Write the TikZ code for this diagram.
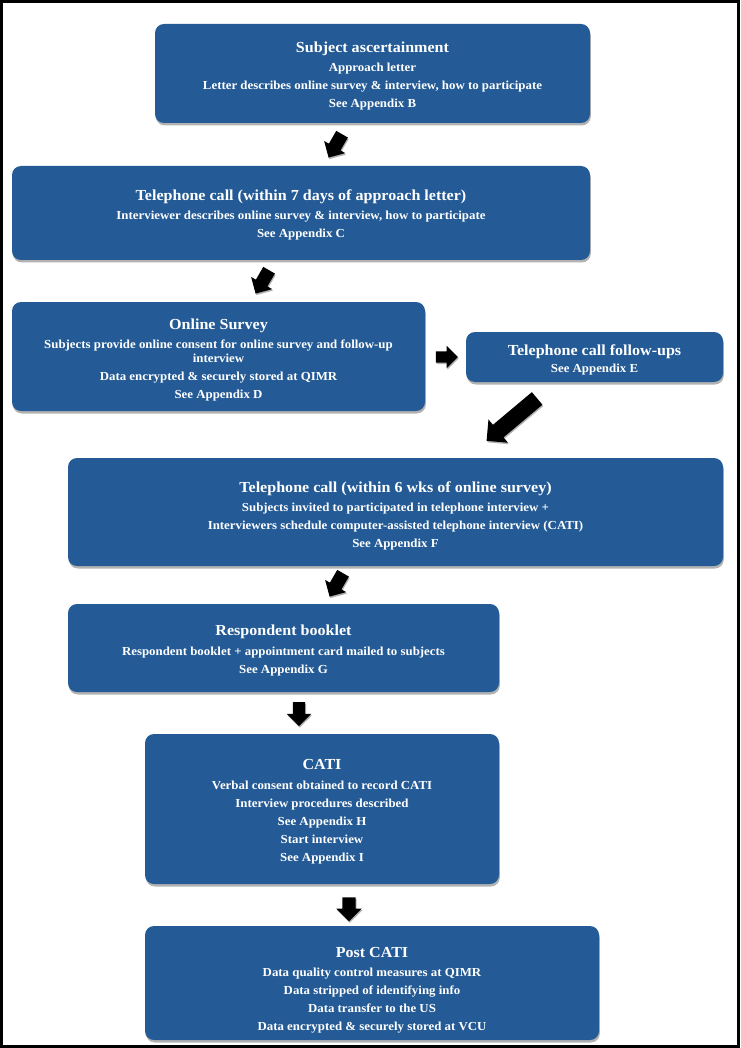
\documentclass[tikz,border=0pt]{standalone}
\usepackage{fontspec}
\setmainfont{Liberation Serif}[FakeStretch=1.05]
\usetikzlibrary{shapes.arrows,shadows}
\definecolor{boxblue}{RGB}{36,91,150}
\newcommand\boxtitle[1]{{\fontsize{15.3}{17}\selectfont #1}}
\begin{document}
\begin{tikzpicture}[x=1pt,y=-1pt,
  flowbox/.style={draw=none, fill=boxblue, rounded corners=9pt, inner sep=0pt,
    drop shadow={shadow xshift=0.8pt, shadow yshift=-2.5pt, opacity=0.3, fill=black}},
  boxtext/.style={text=white, font=\bfseries\fontsize{12.25}{13.5}\selectfont,
    align=center, inner sep=0pt},
  blockarrow/.style={single arrow, fill=black, draw=none, inner xsep=0pt,
    drop shadow={shadow xshift=0.8pt, shadow yshift=-1.5pt, opacity=0.3, fill=black}}
]
\useasboundingbox (0,0) rectangle (740,1048);
\draw[line width=3pt] (1.5,1.5) rectangle (738.5,1046.5);

\node[flowbox, minimum width=435pt, minimum height=99pt] (b1) at (372.5,73.5) {};
\node[boxtext] (t1) at ([yshift=-2.5pt]b1.center)
  {\boxtitle{Subject ascertainment}\\[6pt]
   Approach letter\\[4.5pt]
   Letter describes online survey \& interview, how to participate\\[4.5pt]
   See Appendix B};

\node[flowbox, minimum width=578pt, minimum height=94pt] (b2) at (301,213) {};
\node[boxtext] (t2) at ([yshift=-2pt]b2.center)
  {\boxtitle{Telephone call (within 7 days of approach letter)}\\[6pt]
   Interviewer describes online survey \& interview, how to participate\\[4.5pt]
   See Appendix C};

\node[flowbox, minimum width=413pt, minimum height=109pt] (b3) at (218.5,356.5) {};
\node[boxtext] (t3) at ([yshift=-3pt]b3.center)
  {\boxtitle{Online Survey}\\[6pt]
   Subjects provide online consent for online survey and follow-up\\
   interview\\[4.5pt]
   Data encrypted \& securely stored at QIMR\\[4.5pt]
   See Appendix D};

\node[flowbox, minimum width=257pt, minimum height=50pt] (b4) at (594.5,357) {};
\node[boxtext] (t4) at ([yshift=-3pt]b4.center)
  {\boxtitle{Telephone call follow-ups}\\[4pt]
   See Appendix E};

\node[flowbox, minimum width=655pt, minimum height=108pt] (b5) at (395.5,512) {};
\node[boxtext] (t5) at ([yshift=-4pt]b5.center)
  {\boxtitle{Telephone call (within 6 wks of online survey)}\\[6pt]
   Subjects invited to participated in telephone interview +\\[4.5pt]
   Interviewers schedule computer-assisted telephone interview (CATI)\\[4.5pt]
   See Appendix F};

\node[flowbox, minimum width=431pt, minimum height=88pt] (b6) at (283.5,648) {};
\node[boxtext] (t6) at ([yshift=-2.5pt]b6.center)
  {\boxtitle{Respondent booklet}\\[6pt]
   Respondent booklet + appointment card mailed to subjects\\[4.5pt]
   See Appendix G};

\node[flowbox, minimum width=354pt, minimum height=150pt] (b7) at (322,809) {};
\node[boxtext] (t7) at ([yshift=-2.5pt]b7.center)
  {\boxtitle{CATI}\\[6pt]
   Verbal consent obtained to record CATI\\[4.5pt]
   Interview procedures described\\[4.5pt]
   See Appendix H\\[4.5pt]
   Start interview\\[4.5pt]
   See Appendix I};

\node[flowbox, minimum width=454pt, minimum height=114pt] (b8) at (372,983) {};
\node[boxtext] (t8) at ([yshift=-7pt]b8.center)
  {\boxtitle{Post CATI}\\[6pt]
   Data quality control measures at QIMR\\[4.5pt]
   Data stripped of identifying info\\[4.5pt]
   Data transfer to the US\\[4.5pt]
   Data encrypted \& securely stored at VCU};

% block arrows between the boxes
\node[blockarrow, inner ysep=6.5pt, minimum height=27pt, single arrow head extend=5.5pt, rotate=240] (a1) at (337,143) {};
\node[blockarrow, inner ysep=6.5pt, minimum height=27pt, single arrow head extend=5.5pt, rotate=240] (a2) at (264,279) {};
\node[blockarrow, inner ysep=5.5pt, minimum height=22pt, single arrow head extend=5.5pt] (a3) at (444,357) {};
\node[blockarrow, inner ysep=8pt, minimum height=66pt, single arrow head extend=7pt, rotate=220] (a4) at (515,417) {};
\node[blockarrow, inner ysep=6.5pt, minimum height=27pt, single arrow head extend=5.5pt, rotate=240] (a5) at (338,582) {};
\node[blockarrow, inner ysep=6pt, minimum height=24pt, single arrow head extend=6pt, rotate=270] (a6) at (299,711) {};
\node[blockarrow, inner ysep=6.5pt, minimum height=24pt, single arrow head extend=6pt, rotate=270] (a7) at (349,906) {};
\end{tikzpicture}
\end{document}
